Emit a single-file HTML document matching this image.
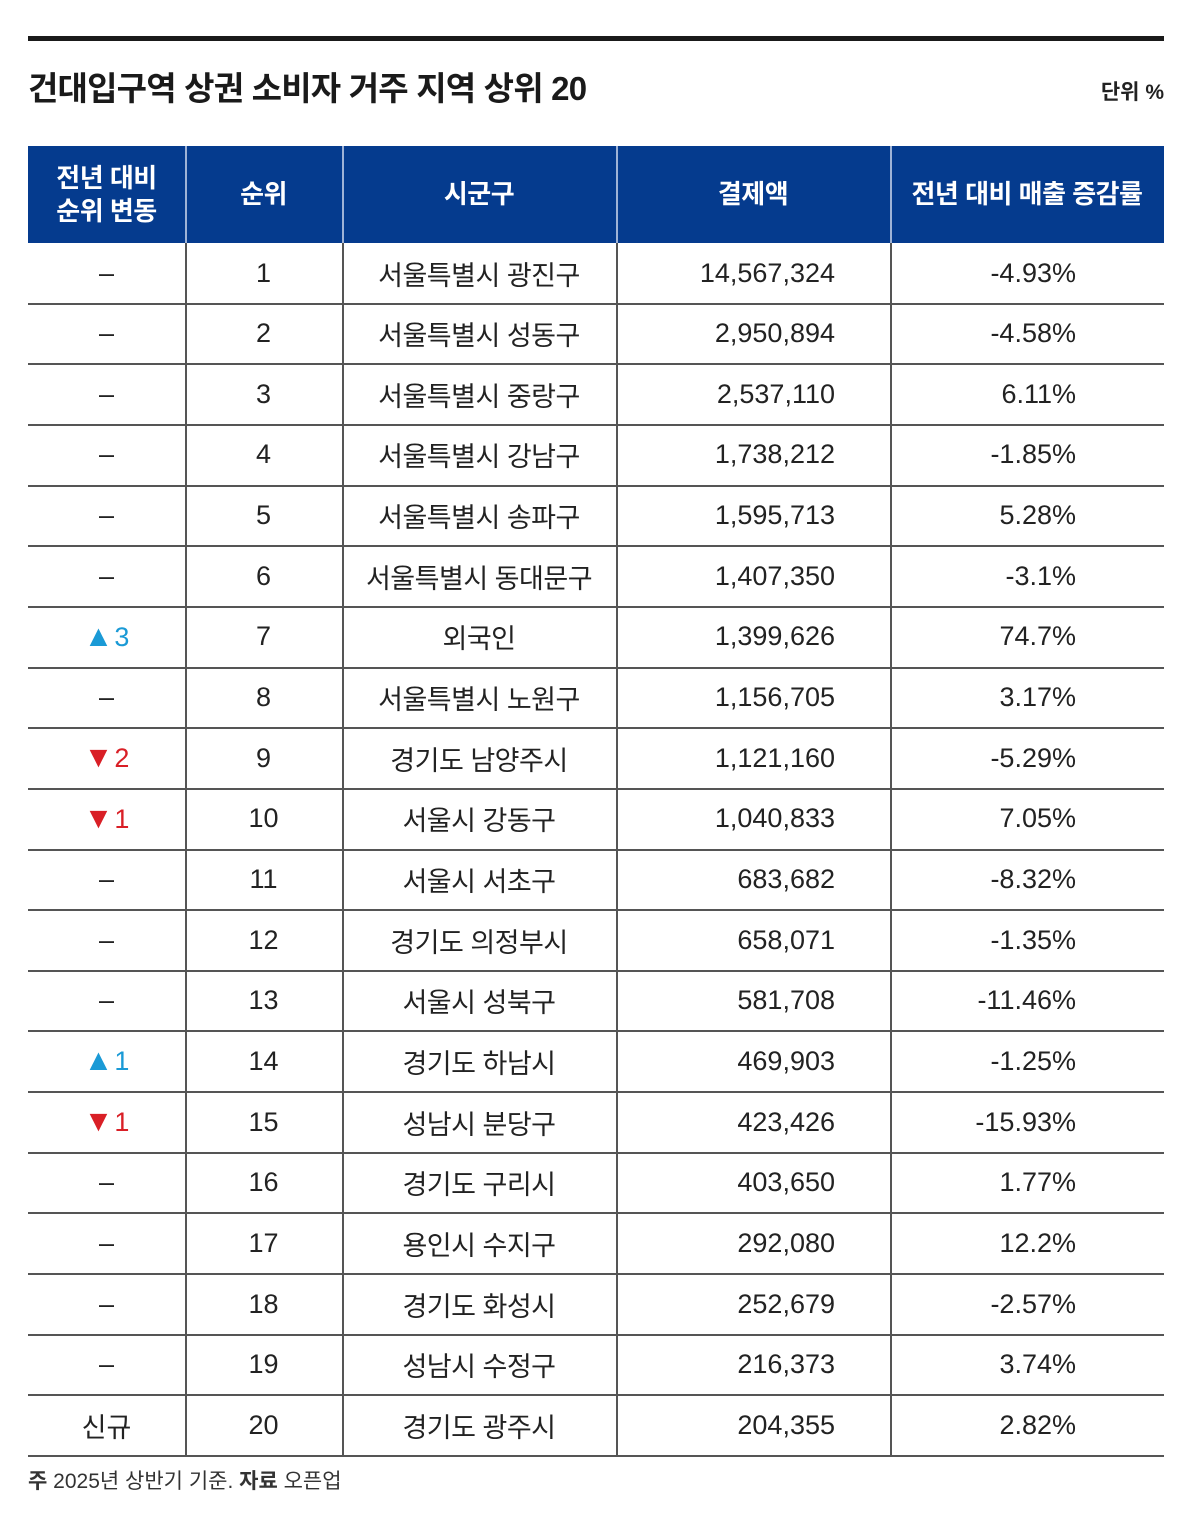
<!DOCTYPE html>
<html><head><meta charset="utf-8">
<style>
html,body{margin:0;padding:0;background:#fff;}
body{width:1200px;height:1536px;position:relative;overflow:hidden;font-family:"Liberation Sans","Noto Sans CJK KR",sans-serif;color:#222;}
.abs{position:absolute;}
.topbar{left:28px;top:36px;width:1136px;height:5px;background:#1a1a1a;}
.title{left:28px;top:62px;font-size:33px;font-weight:bold;letter-spacing:-0.8px;color:#1a1a1a;}
.unit{right:36px;top:76px;font-size:21px;font-weight:bold;color:#222;}
.header{left:28px;top:146px;width:1136px;height:97px;background:#053b8e;}
.hcell{position:absolute;top:0;height:97px;display:flex;align-items:center;justify-content:center;text-align:center;color:#fff;font-weight:bold;font-size:26px;line-height:33px;letter-spacing:-0.5px;}
.hsep{position:absolute;top:0;width:1.5px;height:97px;background:#9fb3d6;}
.cell{position:absolute;height:60px;display:flex;align-items:center;font-size:27px;color:#222;}
.c{justify-content:center;}
.r{justify-content:flex-end;}
.hline{position:absolute;left:28px;width:1136px;height:1.5px;background:#555;}
.vline{position:absolute;width:1.5px;background:#555;}
.foot{left:28px;top:1465px;font-size:21px;color:#333;}
.up{color:#1a9ad6;}.dn{color:#d91f26;}
.tri{font-size:30px;margin-right:1px;}
</style></head>
<body>
<div class="abs topbar"></div>
<div class="abs title">건대입구역 상권 소비자 거주 지역 상위 20</div>
<div class="abs unit">단위 %</div>
<div class="abs header">
  <div class="hcell" style="left:0;width:157px">전년 대비<br>순위 변동</div>
  <div class="hsep" style="left:157px"></div>
  <div class="hcell" style="left:157px;width:157px">순위</div>
  <div class="hsep" style="left:314px"></div>
  <div class="hcell" style="left:314px;width:274px">시군구</div>
  <div class="hsep" style="left:588px"></div>
  <div class="hcell" style="left:588px;width:274px">결제액</div>
  <div class="hsep" style="left:862px"></div>
  <div class="hcell" style="left:862px;width:274px">전년 대비 매출 증감률</div>
</div>
<div id="body"></div>
<div class="abs foot"><b>주</b> 2025년 상반기 기준. <b>자료</b> 오픈업</div>
<script>
const changes=["–","–","–","–","–","–","▲3","–","▼2","▼1","–","–","–","▲1","▼1","–","–","–","–","신규"];
const ranks=[1,2,3,4,5,6,7,8,9,10,11,12,13,14,15,16,17,18,19,20];
const regions=["서울특별시 광진구","서울특별시 성동구","서울특별시 중랑구","서울특별시 강남구","서울특별시 송파구","서울특별시 동대문구","외국인","서울특별시 노원구","경기도 남양주시","서울시 강동구","서울시 서초구","경기도 의정부시","서울시 성북구","경기도 하남시","성남시 분당구","경기도 구리시","용인시 수지구","경기도 화성시","성남시 수정구","경기도 광주시"];
const payments=["14,567,324","2,950,894","2,537,110","1,738,212","1,595,713","1,407,350","1,399,626","1,156,705","1,121,160","1,040,833","683,682","658,071","581,708","469,903","423,426","403,650","292,080","252,679","216,373","204,355"];
const growth=["-4.93%","-4.58%","6.11%","-1.85%","5.28%","-3.1%","74.7%","3.17%","-5.29%","7.05%","-8.32%","-1.35%","-11.46%","-1.25%","-15.93%","1.77%","12.2%","-2.57%","3.74%","2.82%"];
const body=document.getElementById('body');
const top0=243, rh=60.65;
function add(cls,style,html,name){
  const d=document.createElement('div');
  d.className=cls;d.setAttribute('style',style);d.innerHTML=html;
  
  
  body.appendChild(d);return d;
}
for(let i=0;i<ranks.length;i++){
  const y=top0+i*rh;
  let ch=changes[i], chHtml=ch;
  if(ch[0]==='▲') chHtml='<span class="up"><span class="tri">▲</span>'+ch.slice(1)+'</span>';
  else if(ch[0]==='▼') chHtml='<span class="dn"><span class="tri">▼</span>'+ch.slice(1)+'</span>';
  add('cell c',`left:28px;width:157px;top:${y}px`,chHtml,'rank-change-cell');
  add('cell c',`left:185px;width:157px;top:${y}px;font-weight:500`,String(ranks[i]),'rank-cell');
  add('cell c',`left:342px;width:274px;top:${y}px;letter-spacing:-0.5px`,regions[i],'region-cell');
  add('cell r',`left:616px;width:219px;top:${y}px`,payments[i],'payment-cell');
  add('cell r',`left:890px;width:186px;top:${y}px`,growth[i],'growth-cell');
  add('hline',`top:${Math.round(y+rh-1)}px`,'','row-divider');
}
[185,342,616,890].forEach(x=>{
  add('vline',`left:${x}px;top:${top0}px;height:${rh*20}px`,'','column-divider');
});
</script>
</body></html>
